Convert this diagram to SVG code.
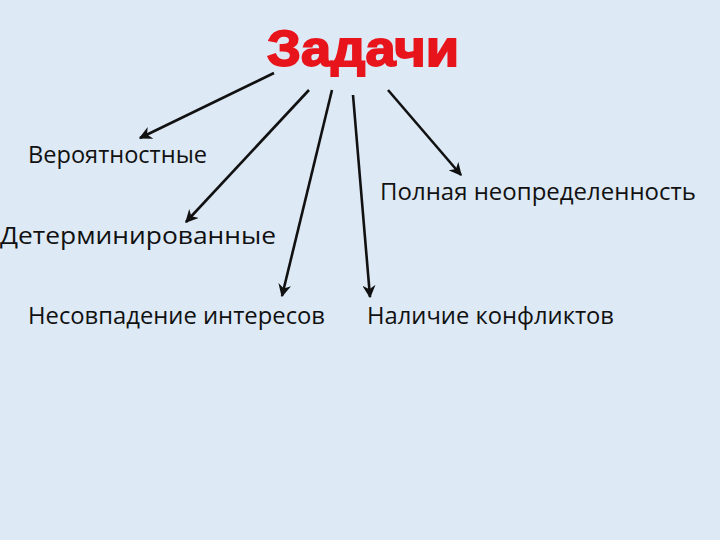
<svg xmlns="http://www.w3.org/2000/svg" width="720" height="540" viewBox="0 0 720 540">
<defs>
<marker id="ah" viewBox="0 0 10 10" refX="9" refY="5" markerWidth="5" markerHeight="5" orient="auto" markerUnits="strokeWidth">
<path d="M0,0 L10,5 L0,10 L3,5 Z" fill="#111"/>
</marker>
<style>
.t{font-family:"Open Sans","Noto Sans",sans-serif;font-size:23px;fill:#111}
.c line{stroke:#111;stroke-width:2.6;marker-end:url(#ah)}
</style>
</defs>
<rect width="720" height="540" fill="#dde9f5"/>
<g id="title"><text x="363" y="66" text-anchor="middle" font-family="Liberation Sans, Arial, sans-serif" font-weight="bold" font-size="50" fill="#e8141c" stroke="#e8141c" stroke-width="1.8" textLength="192" lengthAdjust="spacingAndGlyphs">Задачи</text></g>
<g class="c" id="connectors">
<line x1="274" y1="73" x2="140" y2="138"/>
<line x1="309" y1="90" x2="186" y2="222"/>
<line x1="332" y1="90" x2="282" y2="296"/>
<line x1="353" y1="95" x2="370" y2="297"/>
<line x1="388" y1="90" x2="461" y2="175"/>
</g>
<g id="n1"><text class="t" x="28" y="163" textLength="179" lengthAdjust="spacingAndGlyphs">Вероятностные</text></g>
<g id="n2"><text class="t" x="380" y="200" textLength="316" lengthAdjust="spacingAndGlyphs">Полная неопределенность</text></g>
<g id="n3"><text class="t" x="0" y="244" textLength="276" lengthAdjust="spacingAndGlyphs">Детерминированные</text></g>
<g id="n4"><text class="t" x="28" y="324" textLength="297" lengthAdjust="spacingAndGlyphs">Несовпадение интересов</text></g>
<g id="n5"><text class="t" x="367" y="324" textLength="247" lengthAdjust="spacingAndGlyphs">Наличие конфликтов</text></g>
</svg>
